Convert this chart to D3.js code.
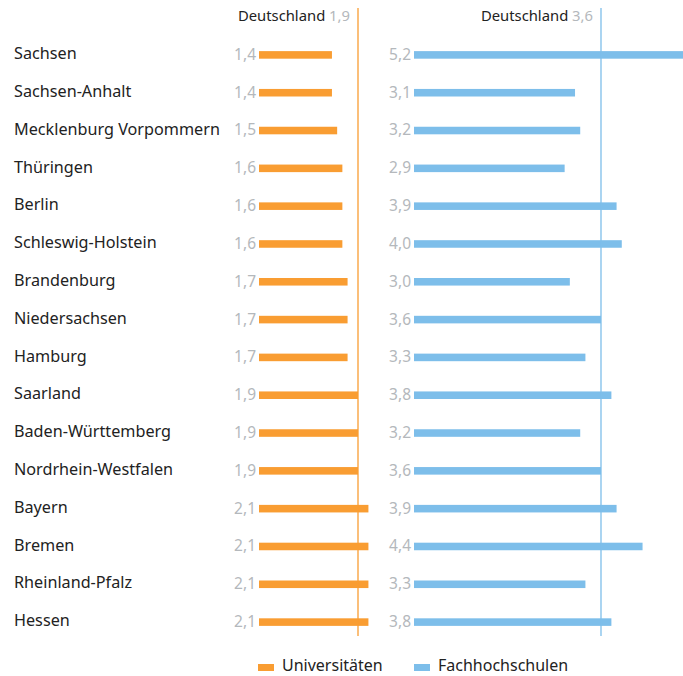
<!DOCTYPE html>
<html><head><meta charset="utf-8">
<script src="https://cdn.jsdelivr.net/npm/d3@7"></script>
<style>body{margin:0;background:#fff}svg{display:block}text{font-family:"Noto Sans",sans-serif}</style>
</head><body><svg id="c" width="683" height="676"></svg>
<script>
const categories = ["Sachsen","Sachsen-Anhalt","Mecklenburg Vorpommern","Thüringen","Berlin","Schleswig-Holstein","Brandenburg","Niedersachsen","Hamburg","Saarland","Baden-Württemberg","Nordrhein-Westfalen","Bayern","Bremen","Rheinland-Pfalz","Hessen"];
const universitaeten = [1.4,1.4,1.5,1.6,1.6,1.6,1.7,1.7,1.7,1.9,1.9,1.9,2.1,2.1,2.1,2.1];
const fachhochschulen = [5.2,3.1,3.2,2.9,3.9,4.0,3.0,3.6,3.3,3.8,3.2,3.6,3.9,4.4,3.3,3.8];
const seriesNames = ["Universitäten","Fachhochschulen"];
const refValues = [1.9, 3.6];
const refLabel = "Deutschland";
const colors = ["#F99D32","#7DBEEA"];

const svg = d3.select("#c");
const fmt = v => d3.format(".1f")(v).replace(".", ",");
const y = d3.scaleBand().domain(categories).range([36, 641]).paddingInner(0.8).paddingOuter(0.4);
const panels = [
  {data: universitaeten, x: d3.scaleLinear().domain([0, 1.9]).range([259, 358]), color: colors[0], ref: refValues[0]},
  {data: fachhochschulen, x: d3.scaleLinear().domain([0, 3.6]).range([414, 601]), color: colors[1], ref: refValues[1]}
];

svg.selectAll("text.cat").data(categories).join("text").attr("class","cat")
  .attr("x", 14).attr("y", d => y(d) + y.bandwidth()/2 - 1.5).attr("dy","0.35em")
  .attr("font-size", 16.2).attr("fill", "#222").text(d => d);

panels.forEach(p => {
  const g = svg.append("g");
  g.selectAll("rect").data(p.data).join("rect")
    .attr("x", p.x(0)).attr("y", (d,i) => y(categories[i]))
    .attr("width", d => p.x(d) - p.x(0)).attr("height", y.bandwidth())
    .attr("fill", p.color);
  g.selectAll("text.val").data(p.data).join("text").attr("class","val")
    .attr("x", p.x(0) - 3).attr("y", (d,i) => y(categories[i]) + y.bandwidth()/2 - 0.5).attr("dy","0.35em")
    .attr("text-anchor","end").attr("font-size", 15.5).attr("fill", "#b4b8bc").text(fmt);
  g.append("line").attr("x1", p.x(p.ref)).attr("x2", p.x(p.ref)).attr("y1", 8).attr("y2", 636)
    .attr("stroke", p.color).attr("stroke-width", 1.3);
  const t = g.append("text").attr("x", p.x(p.ref) - 8).attr("y", 21).attr("text-anchor","end").attr("font-size", 14.8);
  t.append("tspan").attr("fill","#222").text(refLabel + " ");
  t.append("tspan").attr("fill","#b4b8bc").text(fmt(p.ref));
});

const legX = [258, 414];
seriesNames.forEach((n, i) => {
  svg.append("rect").attr("x", legX[i]).attr("y", 664).attr("width", 16).attr("height", 7).attr("fill", colors[i]);
  svg.append("text").attr("x", legX[i] + 24).attr("y", 665.5).attr("dy","0.35em").attr("font-size", 16).attr("fill","#222").text(n);
});
</script></body></html>
